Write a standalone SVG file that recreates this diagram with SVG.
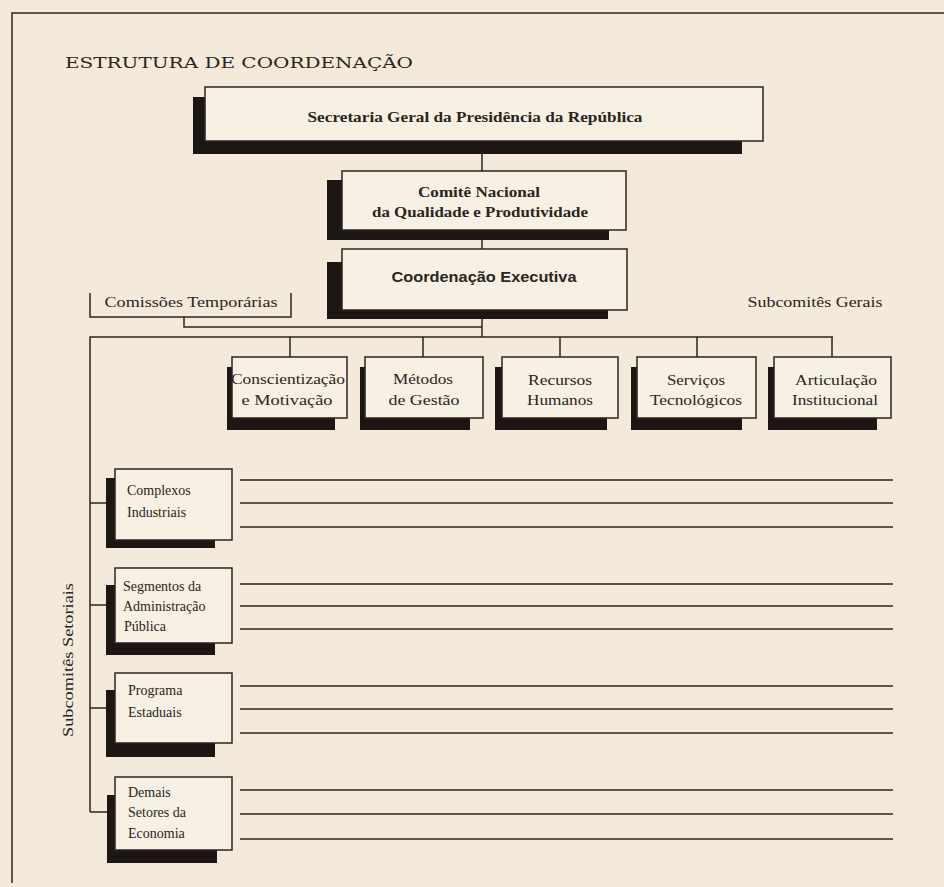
<svg xmlns="http://www.w3.org/2000/svg" width="944" height="887" viewBox="0 0 944 887">
<style>
.bg{fill:#f3eadb}
.box{fill:#f7f0e4;stroke:#2b2420;stroke-width:1.5}
.sh{fill:#1c1714}
.ln{fill:none;stroke:#2b2420;stroke-width:1.5}
.tl{font-family:"Liberation Serif",serif;font-size:14px;fill:#2b2420}
.s13{font-size:14px}
.c{text-anchor:middle}
.b{font-weight:bold}
.sans{font-family:"Liberation Sans",sans-serif}
</style>
<rect class="bg" x="0" y="0" width="944" height="887"/>
<g id="frame">
<path class="ln" d="M12,883 V13 H944" stroke-width="2"/>
</g>
<text id="title" class="tl" x="65" y="68" font-family="DejaVu Serif, serif" font-size="20" textLength="348" lengthAdjust="spacingAndGlyphs" style="font-family:'DejaVu Serif',serif">ESTRUTURA DE COORDENAÇÃO</text>
<g id="connectors">
<path class="ln" d="M482,154 V171"/>
<path class="ln" d="M482,240 V249"/>
<path class="ln" d="M482,319 V337"/>
<path class="ln" d="M90,293 V317 H291 V293"/>
<path class="ln" d="M184,317 V327 H482"/>
<path class="ln" d="M90,812 V337 H833"/>
<path class="ln" d="M290,337 V357 M423,337 V357 M560,337 V357 M697,337 V357 M832,337 V357"/>
<path class="ln" d="M90,503 H107 M90,605 H107 M90,708 H107 M90,812 H110"/>
<path class="ln" d="M240,480 H893 M240,503 H893 M240,527 H893"/>
<path class="ln" d="M240,584 H893 M240,606 H893 M240,629 H893"/>
<path class="ln" d="M240,686 H893 M240,709 H893 M240,733 H893"/>
<path class="ln" d="M240,790 H893 M240,814 H893 M240,839 H893"/>
</g>
<g id="secretaria">
<rect class="sh" x="193" y="97" width="549" height="57"/>
<rect class="box" x="205" y="87" width="558" height="54"/>
<text class="tl c b" x="475" y="122" font-size="14" textLength="335" lengthAdjust="spacingAndGlyphs">Secretaria Geral da Presidência da República</text>
</g>
<g id="comite">
<rect class="sh" x="327" y="180" width="282" height="60"/>
<rect class="box" x="342" y="171" width="284" height="59"/>
<text class="tl c b" x="479" y="197" font-size="13" textLength="122" lengthAdjust="spacingAndGlyphs">Comitê Nacional</text>
<text class="tl c b" x="480" y="217" font-size="13" textLength="216" lengthAdjust="spacingAndGlyphs">da Qualidade e Produtividade</text>
</g>
<g id="coordenacao">
<rect class="sh" x="327" y="262" width="281" height="57"/>
<rect class="box" x="342" y="249" width="285" height="61"/>
<text class="tl c b sans" x="484" y="282" font-size="15" textLength="185" lengthAdjust="spacingAndGlyphs">Coordenação Executiva</text>
</g>
<text id="lbl-temporarias" class="tl c" x="191" y="307" font-size="14" textLength="173" lengthAdjust="spacingAndGlyphs">Comissões Temporárias</text>
<text id="lbl-gerais" class="tl c" x="815" y="307" font-size="14" textLength="135" lengthAdjust="spacingAndGlyphs">Subcomitês Gerais</text>
<text id="lbl-setoriais" class="tl c" transform="translate(73,660) rotate(-90)" x="0" y="0" font-size="14" textLength="154" lengthAdjust="spacingAndGlyphs">Subcomitês Setoriais</text>
<g id="conscientizacao">
<rect class="sh" x="227" y="367" width="108" height="63"/>
<rect class="box" x="232" y="357" width="115" height="61"/>
<text class="tl c" x="288" y="384" textLength="114" lengthAdjust="spacingAndGlyphs">Conscientização</text>
<text class="tl c" x="287" y="405" textLength="91" lengthAdjust="spacingAndGlyphs">e Motivação</text>
</g>
<g id="metodos">
<rect class="sh" x="360" y="367" width="110" height="63"/>
<rect class="box" x="365" y="357" width="118" height="61"/>
<text class="tl c" x="423" y="384" textLength="60" lengthAdjust="spacingAndGlyphs">Métodos</text>
<text class="tl c" x="424" y="405" textLength="71" lengthAdjust="spacingAndGlyphs">de Gestão</text>
</g>
<g id="recursos">
<rect class="sh" x="495" y="367" width="112" height="63"/>
<rect class="box" x="502" y="357" width="116" height="61"/>
<text class="tl c" x="560" y="385" textLength="64" lengthAdjust="spacingAndGlyphs">Recursos</text>
<text class="tl c" x="560" y="405" textLength="66" lengthAdjust="spacingAndGlyphs">Humanos</text>
</g>
<g id="servicos">
<rect class="sh" x="631" y="367" width="111" height="63"/>
<rect class="box" x="637" y="357" width="119" height="61"/>
<text class="tl c" x="696" y="385" textLength="58" lengthAdjust="spacingAndGlyphs">Serviços</text>
<text class="tl c" x="696" y="405" textLength="92" lengthAdjust="spacingAndGlyphs">Tecnológicos</text>
</g>
<g id="articulacao">
<rect class="sh" x="768" y="367" width="109" height="63"/>
<rect class="box" x="774" y="357" width="117" height="61"/>
<text class="tl c" x="836" y="385" textLength="82" lengthAdjust="spacingAndGlyphs">Articulação</text>
<text class="tl c" x="835" y="405" textLength="86" lengthAdjust="spacingAndGlyphs">Institucional</text>
</g>
<g id="complexos">
<rect class="sh" x="106" y="478" width="109" height="70"/>
<rect class="box" x="115" y="469" width="117" height="71"/>
<text class="tl s13" x="127" y="495">Complexos</text>
<text class="tl s13" x="127" y="517">Industriais</text>
</g>
<g id="segmentos">
<rect class="sh" x="106" y="585" width="109" height="70"/>
<rect class="box" x="115" y="568" width="117" height="75"/>
<text class="tl s13" x="123" y="591">Segmentos da</text>
<text class="tl s13" x="123" y="611">Administração</text>
<text class="tl s13" x="124" y="631">Pública</text>
</g>
<g id="programa">
<rect class="sh" x="106" y="690" width="109" height="67"/>
<rect class="box" x="115" y="673" width="117" height="70"/>
<text class="tl s13" x="128" y="695">Programa</text>
<text class="tl s13" x="128" y="717">Estaduais</text>
</g>
<g id="demais">
<rect class="sh" x="107" y="795" width="110" height="68"/>
<rect class="box" x="115" y="777" width="117" height="73"/>
<text class="tl s13" x="128" y="797">Demais</text>
<text class="tl s13" x="128" y="817">Setores da</text>
<text class="tl s13" x="128" y="838">Economia</text>
</g>
</svg>
